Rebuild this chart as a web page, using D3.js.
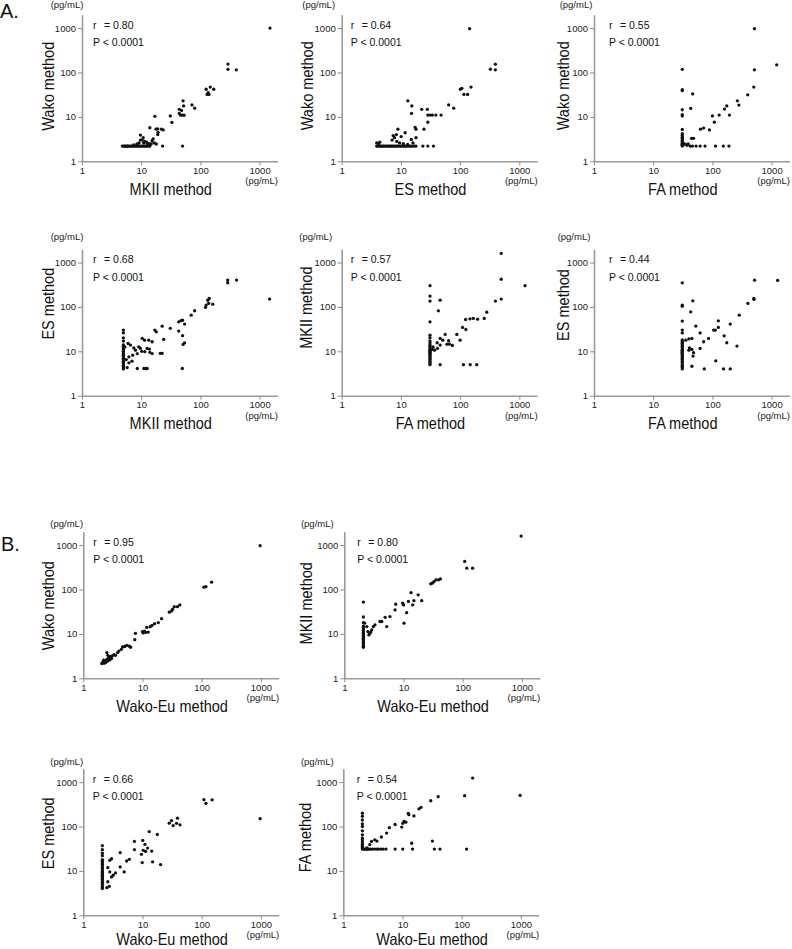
<!DOCTYPE html>
<html><head><meta charset="utf-8">
<script src="https://cdn.jsdelivr.net/npm/d3@7"></script>
<style>body{margin:0;background:#fff;} text{font-family:"Liberation Sans",Arial,Helvetica,sans-serif;}</style>
</head><body><svg id="c" width="792" height="949"></svg>
<script>
const tickValues=[1,10,100,1000];
const tickLabels=["1","10","100","1000"];
const axisDomain=[1,2000];
const unitLabel="(pg/mL)";
const pText="P < 0.0001";

// ---- Panel A1: MKII (x) vs Wako (y)
const a1Base=[4.8,5.0,5.2,5.4,5.6,5.8,6.0,6.3,6.6,6.9,7.2,7.5,7.9,8.3,8.7,9.1,9.5,10,10.5,11,11.5,12,12.6,13.3,14,23,50];
const a1Other=[[7.5,2.35],[8.5,2.45],[9.2,2.6],[9.7,3.0],[10.4,3.0],[10.8,3.4],[9.7,3.9],[11,2.6],[11.5,2.8],[12.3,2.7],[12.8,2.5],[13.5,2.5],[14.7,2.45],[15.3,2.9],[15.9,3.2],[16.5,2.6],[18,2.45],[14,5.7],[17.8,5.3],[19,5.4],[22,5.3],[23.5,5.1],[19.3,4.5],[19,4.0],[17,10.3],[31,10.5],[33,7.5],[44,14.8],[44,12],[46,11],[49,11],[53,10.9],[51,23],[52,17.7],[48,14],[72,18.6],[80,15.7],[125,42],[147,47],[168,42],[130,32],[140,32],[135,35],[292,155],[292,118],[404,115],[1500,1000]];
// ---- Panel A2: ES (x) vs Wako (y)
const a2Base=[3.9,4.1,4.3,4.5,4.7,4.9,5.1,5.3,5.6,5.9,6.2,6.5,6.8,7.1,7.4,7.8,8.2,8.6,9.0,9.5,10,10.5,11,11.6,12.2,12.8,13.5,14.2,15,16,17,18,23.5,28.5,35.5];
const a2Other=[[3.9,2.6],[4.4,2.7],[4.2,2.5],[7.1,3.0],[7.8,3.4],[7.4,3.8],[8.4,4.0],[8.5,2.8],[8.9,5.3],[10.1,3.6],[11.8,4.4],[9.5,2.6],[11,2.5],[13,2.4],[15,3.1],[18,3.4],[16,2.6],[13.1,23],[15.3,17.7],[15.1,12],[17.4,5.8],[18,5.3],[22.5,14.8],[28,14.8],[24.5,5.3],[28.5,7.6],[28.5,11],[31.3,11],[34,11],[39,11],[47.7,11],[64,18.6],[78,15.7],[101,42],[107,44],[116,32],[134,32],[153,47],[325,119],[394,154],[394,115],[145,970]];
// ---- Panel A3: FA (x) vs Wako (y)
const a3Col=[118,41,39,14.5,11.2,10.5,5.2,4.2,3.8,3.5,3.2,3.0,2.8,2.6,2.5,2.4,2.3,2.2];
const a3Other=[[33,2.5],[35,2.4],[37,2.3],[39,2.46],[42,2.2],[46,2.2],[53,2.2],[62,2.2],[75,2.2],[113,2.2],[153,2.2],[190,2.2],[44.5,3.3],[48,3.3],[46.5,33],[43,15.5],[63,5.3],[71,5.6],[89,5.1],[100,10.5],[108,7.6],[130,11],[194,11],[160,15],[175,17.7],[264,23],[280,18.5],[395,31.4],[500,47],[513,115],[513,970],[1220,149]];
// ---- Panel A4: MKII (x) vs ES (y)
const a4Col=[30,26,20,17,14,13,12,11,10,9.2,8.5,8,7.5,7,6.5,6,5.6,5.2,4.8,4.5,4.2,4.0];
const a4Other=[[5.3,12.5],[5.6,6.5],[5.8,4.3],[6,15],[6.2,7.5],[6.6,13.8],[6.2,5.5],[7.2,8.2],[7.5,11.9],[7,6],[8,10.6],[8.6,8.9],[8.6,4.1],[9.1,12.6],[9.7,11.6],[10.4,19.5],[11.4,17.8],[11.5,9.8],[10.2,10],[11.1,4.1],[12.1,4.1],[12.6,4.1],[12.6,11.6],[13.4,17.8],[13.8,11.2],[15.3,16.4],[15.3,8.9],[14,9.5],[17,30],[18,27.4],[21,9],[22.6,9],[24,18.5],[22.6,36.8],[31,33],[43,46],[47,49],[50,50],[54,41],[43,28.5],[50,22.5],[54,15.5],[51,14.3],[49.5,4.1],[70,65],[80,82],[122,98],[125,110],[133,141],[141,155],[138,120],[162,115],[289,401],[289,350],[408,401],[1475,150]];
// ---- Panel A5: FA (x) vs MKII (y)
const a5Col=[300,175,135,46,23,20,17,15.5,14,13,12,11,10.5,10,9.5,9,8.5,8,7.5,7,6.5,6,5.5,5.2,5.0];
const a5Other=[[34,11],[35,12.5],[37,10.6],[41,15.6],[41.5,11.6],[46,19.5],[46,13.8],[43,81.5],[46,142],[46,5],[51,17.8],[56,24],[60,14.5],[64,17.3],[66,14.5],[74,13.5],[88,24],[100,17.8],[110,34.5],[125,31],[114,5],[148,5],[191,5],[124,52],[147,54],[167,55],[197,53],[256,55],[282,76],[395,135],[495,150],[495,420],[495,1600],[1250,300]];
// ---- Panel A6: FA (x) vs ES (y)
const a6Col=[349,110,104,48,30,26,18,17,16,15,14,13,12,11,10.5,10,9.5,9,8.5,8,7.5,7,6.5,6,5.5,5,4.6,4.3,4.0];
const a6Other=[[35.5,17.8],[40,19],[45,19.5],[41,12],[45,11],[40,10.6],[48,9.3],[47,7.8],[45,4.6],[46.7,137],[43,77.6],[52.5,37],[62,26],[62,11.6],[71,16.4],[86,19.5],[105,30],[112,30],[126,34.5],[126,48.5],[200,41],[158,22.3],[175,15.6],[260,13.1],[114,6.1],[73,4],[154,4],[200,4],[284,65],[398,120],[500,155],[505,147],[516,400],[1265,394]];
// ---- Panel B1: Wako-Eu (x) vs Wako (y)
const b1Pts=[[2.05,2.15],[2.1,2.25],[2.2,2.2],[2.25,2.35],[2.3,2.2],[2.35,2.5],[2.4,2.3],[2.45,2.6],[2.5,2.4],[2.55,2.7],[2.2,2.55],[2.6,2.5],[2.7,2.9],[2.5,3.8],[2.6,3.3],[2.8,2.6],[2.9,3.1],[3.0,2.8],[3.1,3.2],[3.3,3.4],[3.5,3.3],[3.8,3.8],[4.0,4.1],[4.4,4.5],[4.6,5.1],[5.0,5.2],[5.4,5.5],[6.0,5.3],[6.3,5.0],[7.4,7.4],[7.6,10.3],[10,11.2],[10.3,10.5],[10.8,11.5],[11.4,10.8],[11.8,14],[12.5,11],[13.5,14.5],[14.5,15.5],[16,17],[18.5,18],[21,22],[28.4,30.8],[31,33],[32.3,36],[34.5,41],[39,41],[42.7,45],[109,113],[118,116],[147,146],[970,970]];
// ---- Panel B2: Wako-Eu (x) vs MKII (y)
const b2Col=[52,24,18,15,14,13,12,11,10.5,10,9.5,9,8.5,8,7.5,7,6.5,6,5.5,5.2,5.0];
const b2Other=[[2.2,17.4],[2.4,14.6],[2.5,11.3],[2.7,10.3],[2.9,12.3],[3.1,14.6],[3.3,16],[2.6,9.5],[2.8,11],[4.0,19],[4.3,19],[4.9,23.6],[5.2,14.6],[5.9,24.5],[7.2,34.6],[7.4,46.5],[9.7,49],[10,45],[10.2,17.4],[11.3,30],[12.1,54],[13.4,85],[14.3,45],[15,56],[17.7,76],[20.3,56],[28.8,134],[30.6,139],[32.7,150],[35.4,165],[39,165],[42,173],[108,428],[117,302],[147,302],[970,1600]];
// ---- Panel B3: Wako-Eu (x) vs ES (y)
const b3Col=[37,30,25,22,18,17,16,15,14,13,12,11,10,9.5,9,8.5,8,7.5,7,6.5,6,5.5,5,4.5,4.2,4.0];
const b3Other=[[2.5,4.2],[2.75,4.5],[2.6,5.7],[2.6,11.9],[2.8,9.5],[2.8,17.3],[3.0,18.9],[3.0,7.3],[3.2,8],[3.5,9],[4.2,12.3],[4.2,25.8],[4.9,9.5],[5.4,16.7],[6.0,18.2],[7.3,30],[7.3,46],[9.6,23.6],[9.9,15.4],[10.1,48.5],[10.3,29],[11,39.5],[11.3,27.5],[12.2,32.7],[13,77],[14.3,28],[14.8,16],[17.8,66],[20.2,13.9],[28.3,119],[31,136],[33,105],[37.6,118],[39,154],[43,109],[109,402],[118,333],[150,398],[970,150]];
// ---- Panel B4: Wako-Eu (x) vs FA (y)
const b4Col=[200,170,140,115,100,80,65,55,50,45,40,36,33,31];
const b4Row=[2.2,2.3,2.4,2.5,2.6,2.7,2.9,3.1,3.4,3.7,3.9,4.3,4.7,5.25,7.5,10.1,14.8,34.5,43,121];
const b4Other=[[2.5,33],[2.8,39],[3.0,46],[3.4,50],[3.7,47],[4.4,58],[5.4,71],[6,94],[7.5,111],[9.7,97],[10.1,118],[11.4,125],[10.6,130],[12.5,198],[12.8,185],[15.6,173],[19,250],[20.5,270],[30,380],[40,470],[112,494],[153,1230],[970,500],[14.3,42],[32,47]];

const rValues=["0.80","0.64","0.55","0.68","0.57","0.44","0.95","0.80","0.66","0.54"];
const xTitles=["MKII method","ES method","FA method","MKII method","FA method","FA method","Wako-Eu method","Wako-Eu method","Wako-Eu method","Wako-Eu method"];
const yTitles=["Wako method","Wako method","Wako method","ES method","MKII method","ES method","Wako method","MKII method","ES method","FA method"];

const datasets=[
  a1Base.map(x=>[x,2.2]).concat(a1Other),
  a2Base.map(x=>[x,2.2]).concat(a2Other),
  a3Col.map(y=>[31,y]).concat(a3Other),
  a4Col.map(y=>[5,y]).concat(a4Other),
  a5Col.map(y=>[31,y]).concat(a5Other),
  a6Col.map(y=>[31,y]).concat(a6Other),
  b1Pts,
  b2Col.map(y=>[2.1,y]).concat(b2Other),
  b3Col.map(y=>[2.1,y]).concat(b3Other),
  b4Col.map(y=>[2.1,y]).concat(b4Row.map(x=>[x,31])).concat(b4Other)
];

// layout (pixels)
const layout=[
  {ox:82,oy:161.3,rdx:11,udx:-15,udy:-23,ytx:-32.7,yty:-75,xtd:29.4},
  {ox:341.7,oy:161.3,rdx:9,udx:-23,udy:-23,ytx:-33.4,yty:-75.5,xtd:29.4},
  {ox:594,oy:161.3,rdx:15,udx:-18,udy:-23,ytx:-29,yty:-75.5,xtd:29.4},
  {ox:82,oy:395.7,rdx:11,udx:-15,udy:-25.5,ytx:-32,yty:-92,xtd:29.4},
  {ox:341.7,oy:395.7,rdx:9,udx:-26,udy:-25.5,ytx:-34.4,yty:-88,xtd:29.4},
  {ox:594,oy:395.7,rdx:15,udx:-20,udy:-25.5,ytx:-29,yty:-90.7,xtd:29.4},
  {ox:83.3,oy:678.3,rdx:10,udx:-16.6,udy:-20.5,ytx:-33.3,yty:-72.6,xtd:29.4},
  {ox:344.3,oy:678.3,rdx:13,udx:-27,udy:-20.5,ytx:-36.6,yty:-75,xtd:29.4},
  {ox:83.3,oy:915.3,rdx:9.4,udx:-16.6,udy:-20,ytx:-34,yty:-82,xtd:25.5},
  {ox:343.3,oy:915.3,rdx:13.4,udx:-26,udy:-20,ytx:-36.6,yty:-77.8,xtd:25.5}
];
const decX=59.2, decY=44.4;
const svg=d3.select("#c");
const L=Math.log10(axisDomain[1]);
const squeeze=0.88;

svg.append("text").attr("x",0).attr("y",18).attr("font-size",20).attr("fill","#111").text("A.");
svg.append("text").attr("x",1).attr("y",551).attr("font-size",20).attr("fill","#111").text("B.");

function compress(sel){
  sel.each(function(){
    const w=this.getComputedTextLength();
    d3.select(this).attr("textLength",w*squeeze).attr("lengthAdjust","spacingAndGlyphs");
  });
}

layout.forEach((p,i)=>{
  const x=d3.scaleLog().domain(axisDomain).range([p.ox,p.ox+decX*L]);
  const y=d3.scaleLog().domain(axisDomain).range([p.oy,p.oy-decY*L]);
  const g=svg.append("g");
  const xa=g.append("g").attr("transform",`translate(0,${p.oy})`)
    .call(d3.axisBottom(x).tickValues(tickValues).tickFormat((d,k)=>tickLabels[k]).tickSize(4).tickSizeOuter(0).tickPadding(2));
  const ya=g.append("g").attr("transform",`translate(${p.ox},0)`)
    .call(d3.axisLeft(y).tickValues(tickValues).tickFormat((d,k)=>tickLabels[k]).tickSize(4).tickSizeOuter(0).tickPadding(2));
  [xa,ya].forEach(a=>{
    a.select(".domain").attr("stroke","#9a9a9a").attr("stroke-width",1.6);
    a.selectAll(".tick line").attr("stroke","#8a8a8a").attr("stroke-width",1);
    a.selectAll(".tick text").attr("font-size",9.5).attr("fill","#222").attr("font-family","Liberation Sans, Arial, sans-serif");
  });
  g.append("g").selectAll("circle").data(datasets[i]).join("circle")
    .attr("cx",d=>x(d[0])).attr("cy",d=>y(d[1])).attr("r",1.65).attr("fill","#111");
  const y1000=y(1000);
  g.append("text").attr("x",p.ox+p.rdx).attr("y",y1000+0.8).attr("font-size",10.5).attr("fill","#111").text("r");
  g.append("text").attr("x",p.ox+p.rdx+11).attr("y",y1000+0.8).attr("font-size",10.5).attr("fill","#111").text("= "+rValues[i]);
  g.append("text").attr("x",p.ox+p.rdx).attr("y",y1000+18).attr("font-size",10.5).attr("fill","#111").text(pText);
  g.append("text").attr("x",p.ox+p.udx).attr("y",p.oy-133.2+p.udy).attr("dominant-baseline","middle")
    .attr("text-anchor","middle").attr("font-size",9.5).attr("fill","#222").text(unitLabel);
  g.append("text").attr("x",x(1000)+2).attr("y",p.oy+20.5).attr("dominant-baseline","middle")
    .attr("text-anchor","middle").attr("font-size",9.5).attr("fill","#222").text(unitLabel);
  const xt=g.append("text").attr("x",x(31.6)).attr("y",p.oy+p.xtd).attr("dominant-baseline","middle")
    .attr("text-anchor","middle").attr("font-size",16.5).attr("fill","#111").text(xTitles[i]);
  const yt=g.append("text").attr("transform",`translate(${p.ox+p.ytx},${p.oy+p.yty}) rotate(-90)`)
    .attr("dominant-baseline","middle").attr("text-anchor","middle").attr("font-size",16.5).attr("fill","#111").text(yTitles[i]);
  compress(xt); compress(yt);
});
</script></body></html>
